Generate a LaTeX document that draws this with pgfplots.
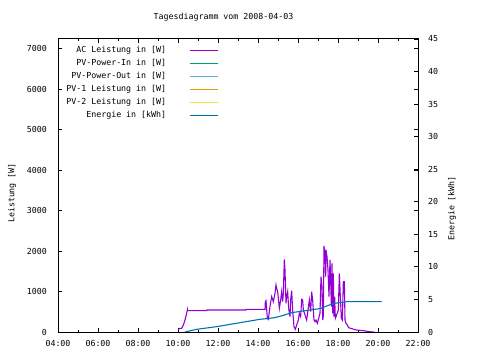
\documentclass[border=0pt]{standalone}
\usepackage{fontspec}
\setmainfont{DejaVu Sans Mono}
\usepackage{pgfplots}
\pgfplotsset{compat=1.18}
\definecolor{cAC}{HTML}{9400D3}
\definecolor{cIn}{HTML}{009E73}
\definecolor{cOut}{HTML}{56B4E9}
\definecolor{cPVa}{HTML}{E69F00}
\definecolor{cPVb}{HTML}{F0E442}
\definecolor{cE}{HTML}{0072B2}
\begin{document}
\fontsize{8.3bp}{10bp}\selectfont
\begin{tikzpicture}[font=\fontsize{8.3bp}{10bp}\selectfont]
\useasboundingbox (0,0) rectangle (480bp,360bp);
\begin{axis}[
  at={(58bp,28bp)}, anchor=south west, scale only axis,
  width=360bp, height=293bp,
  xmin=4, xmax=22, ymin=0, ymax=7235,
  xtick={4,6,...,22},
  xticklabels={04:00,06:00,08:00,10:00,12:00,14:00,16:00,18:00,20:00,22:00},
  minor x tick num=1,
  ytick={0,1000,...,7000},
  yticklabels={0,1000,2000,3000,4000,5000,6000,7000},
  tick align=inside, major tick length=4bp, minor tick length=2bp,
  axis line style={line width=1bp},
  every tick/.style={black, line width=0.8bp},
  /pgf/number format/assume math mode=true,
  yticklabel style={anchor=east, inner sep=0pt, xshift=-11bp},
  xticklabel style={anchor=north, inner sep=0pt, yshift=-8bp},
  legend plot pos=right,
  legend cell align=right,
  legend image code/.code={\draw[#1] (0bp,0bp) -- (28bp,0bp);},
  legend style={draw=none, fill=none, at={(0.4556,0.981)}, anchor=north east,
    nodes={inner sep=0pt, text height=6bp, text depth=1.5bp},
    row sep=5.5bp, column sep=23bp},
]
\addplot[cAC, line width=1.1bp, forget plot] coordinates {
(10.017,49) (10.067,91) (10.183,91) (10.267,173) (10.35,296) (10.40,395) (10.433,461) (10.467,543) (10.47,527) (11.433,527) (11.44,543) (13.40,543) (13.41,560) (14.35,560) (14.367,749) (14.40,774) (14.433,560) (14.467,338) (14.517,313) (14.60,626) (14.683,873) (14.767,749) (14.85,955) (14.90,1161) (14.933,1079) (14.983,996) (15.017,832) (15.067,585) (15.133,790) (15.183,996) (15.233,749) (15.267,955) (15.317,1795) (15.35,1531) (15.40,708) (15.433,873) (15.483,996) (15.533,585) (15.60,379) (15.633,790) (15.683,1021) (15.733,543) (15.80,132) (15.867,66) (15.933,173) (16.017,296) (16.067,461) (16.133,379) (16.183,807) (16.233,790) (16.267,543) (16.35,420) (16.433,296) (16.50,543) (16.567,790) (16.633,502) (16.683,996) (16.733,790) (16.80,296) (16.85,255) (16.90,296) (16.967,214) (17.033,338) (17.10,461) (17.15,1367) (17.20,1120) (17.233,296) (17.267,395) (17.30,2124) (17.35,1943) (17.383,1367) (17.40,2025) (17.45,1861) (17.50,1531) (17.55,873) (17.60,1780) (17.633,1284) (17.667,626) (17.70,1696) (17.733,461) (17.767,1449) (17.80,379) (17.833,873) (17.867,338) (17.933,420) (18.017,543) (18.067,1449) (18.117,873) (18.167,338) (18.217,296) (18.267,1243) (18.317,1243) (18.35,296) (18.40,214) (18.467,173) (18.533,107) (18.633,91) (18.80,66) (18.933,49) (19.267,33) (19.567,8) (19.767,0) (19.80,0)
};
\addlegendimage{draw=cAC, line width=1.6bp}
\addlegendentry{AC Leistung in [W]}
\addlegendimage{draw=cIn, line width=1.6bp}
\addlegendentry{PV-Power-In in [W]}
\addlegendimage{draw=cOut, line width=1.6bp}
\addlegendentry{PV-Power-Out in [W]}
\addlegendimage{draw=cPVa, line width=1.6bp}
\addlegendentry{PV-1 Leistung in [W]}
\addlegendimage{draw=cPVb, line width=1.6bp}
\addlegendentry{PV-2 Leistung in [W]}
\addlegendimage{draw=cE, line width=1.6bp}
\addlegendentry{Energie in [kWh]}
\end{axis}
\begin{axis}[
  at={(58bp,28bp)}, anchor=south west, scale only axis,
  width=360bp, height=293bp,
  xmin=4, xmax=22, ymin=0, ymax=45,
  axis y line*=right, axis x line=none,
  ytick={0,5,...,45},
  tick align=inside, major tick length=4bp,
  axis line style={line width=1bp},
  every tick/.style={black, line width=0.8bp},
  /pgf/number format/assume math mode=true,
  yticklabel style={anchor=west, inner sep=0pt, xshift=10bp},
]
\addplot[cE, line width=1.1bp] coordinates {
(10.35,0) (10.93,0.41) (11.93,0.82) (12.93,1.34) (14.1,1.95) (14.43,2.05) (14.85,2.21) (15.27,2.56) (15.68,2.97) (16.27,3.23) (17.1,3.59) (17.52,4.10) (17.85,4.41) (18.43,4.66) (20.18,4.66)
};
\end{axis}
\node at (223.5bp,343bp) {Tagesdiagramm vom 2008-04-03};
\node[rotate=90] at (12bp,167bp) {Leistung [W]};
\node[rotate=90] at (452bp,151.5bp) {Energie [kWh]};
\end{tikzpicture}
\end{document}
